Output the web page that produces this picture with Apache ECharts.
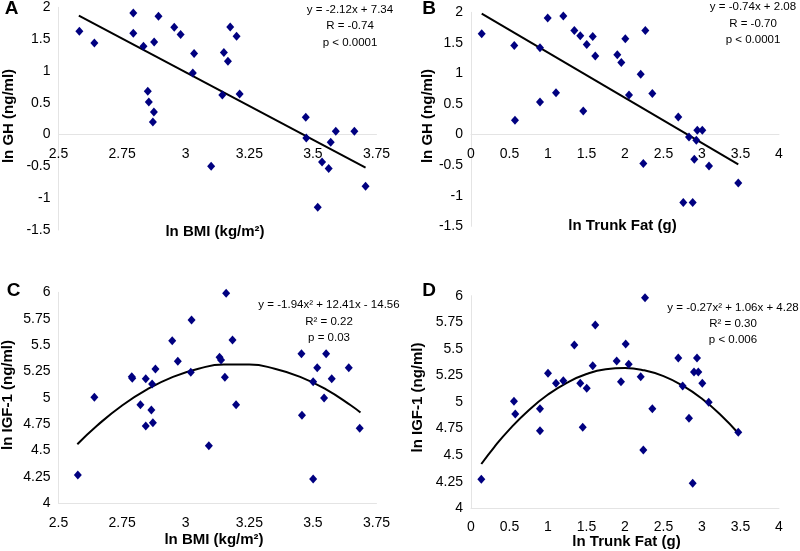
<!DOCTYPE html>
<html><head><meta charset="utf-8">
<script src="https://cdn.jsdelivr.net/npm/echarts@6/dist/echarts.min.js"></script>
<style>html,body{margin:0;padding:0;background:#fff}#c{width:800px;height:551px}</style>
</head><body><div id="c"></div>
<script>
// Panel A: ln BMI vs ln GH
const bmiA = [2.582,2.641,2.794,2.794,2.834,2.876,2.893,2.851,2.855,2.875,2.871,2.955,2.98,3.033,3.028,3.175,3.2,3.15,3.166,3.144,3.212,3.472,3.474,3.59,3.663,3.57,3.1,3.536,3.562,3.519,3.707];
const ghA = [1.624,1.44,1.912,1.593,1.388,1.456,1.86,0.681,0.513,0.355,0.198,1.687,1.572,1.274,0.969,1.692,1.546,1.289,1.152,0.623,0.638,0.272,-0.053,0.052,0.052,-0.121,-0.498,-0.431,-0.535,-1.143,-0.813];
// Panel B: ln Trunk Fat vs ln GH
const fatB = [0.139,0.562,0.896,0.996,1.199,1.342,1.419,1.503,1.581,1.614,0.571,0.896,1.104,1.458,2.004,2.264,1.9,1.952,2.204,2.052,2.355,2.692,2.939,3.004,2.831,2.926,2.238,2.9,3.091,2.757,2.879,3.471];
const ghB = [1.65,1.459,1.42,1.905,1.938,1.704,1.618,1.475,1.606,1.284,0.234,0.533,0.686,0.386,1.569,1.704,1.307,1.181,0.985,0.647,0.67,0.288,0.07,0.07,-0.039,-0.093,-0.474,-0.404,-0.513,-1.111,-1.111,-0.791];
// Panel C: ln BMI vs ln IGF-1
const bmiC = [2.641,2.788,2.79,2.843,2.881,2.868,2.822,2.865,2.947,2.969,3.023,3.02,3.159,3.184,3.133,3.139,3.154,3.198,3.455,3.552,3.517,3.641,3.574,3.501,3.544,3.457,2.843,2.871,2.576,3.091,3.684,3.501];
const igfC = [5.005,5.2,5.185,5.181,5.273,5.131,4.935,4.884,5.541,5.346,5.737,5.242,5.991,5.548,5.384,5.358,5.194,4.935,5.418,5.418,5.285,5.285,5.181,5.153,4.998,4.834,4.733,4.764,4.268,4.546,4.711,4.23];
// Panel D: ln Trunk Fat vs ln IGF-1
const fatD = [0.558,0.575,0.896,1.0,1.104,1.199,1.342,1.419,1.503,1.581,1.614,2.26,2.009,1.892,2.048,1.948,2.204,2.692,2.935,2.896,2.952,3.004,2.749,3.087,2.355,2.831,0.896,1.451,0.134,2.238,2.879,3.471];
const igfD = [5.007,4.887,4.937,5.27,5.176,5.2,5.536,5.176,5.129,5.341,5.724,5.981,5.546,5.386,5.355,5.191,5.238,5.414,5.414,5.282,5.282,5.176,5.151,4.997,4.937,4.847,4.73,4.762,4.273,4.548,4.235,4.715];
// Trend lines
const trendAX = [2.58,3.707], trendAY = [1.870,-0.519];
const trendBX = [0.139,3.471], trendBY = [1.977,-0.489];
const curveCX = [2.574,2.65,2.75,2.85,2.95,3.05,3.15,3.25,3.35,3.45,3.55,3.65,3.687];
const curveCY = [4.56,4.733,4.927,5.082,5.199,5.276,5.315,5.315,5.276,5.199,5.082,4.927,4.86];
const curveDX = [0.134,0.3,0.5,0.75,1.0,1.25,1.5,1.75,2.0,2.25,2.5,2.75,3.0,3.25,3.471];
const curveDY = [4.417,4.574,4.743,4.923,5.07,5.183,5.263,5.308,5.32,5.298,5.243,5.153,5.03,4.873,4.706];
// Annotations
const eqA = ['y = -2.12x + 7.34','R = -0.74','p < 0.0001'];
const eqB = ['y = -0.74x + 2.08','R = -0.70','p < 0.0001'];
const eqC = ['y = -1.94x² + 12.41x - 14.56','R² = 0.22','p = 0.03'];
const eqD = ['y = -0.27x² + 1.06x + 4.28','R² = 0.30','p < 0.006'];
const panelLetters = ['A','B','C','D'];
const xTitles = ['ln BMI (kg/m²)','ln Trunk Fat (g)','ln BMI (kg/m²)','ln Trunk Fat (g)'];
const yTitles = ['ln GH (ng/ml)','ln GH (ng/ml)','ln IGF-1 (ng/ml)','ln IGF-1 (ng/ml)'];

const zip = (a,b) => a.map((v,i)=>[v,b[i]]);
const FONT = 'Liberation Sans, Arial, sans-serif';
const axisLbl = {color:'#000', fontSize:14, fontFamily:FONT};
const lineCol = '#e4e4e4';
const grids = [
  {left:58.5, top:7.3, width:318, height:222.7},
  {left:471, top:12.3, width:308, height:214},
  {left:58.5, top:292.3, width:318, height:211},
  {left:471, top:295.7, width:308, height:212.6}
];
// x axis of the GH panels crosses at y = 0 (1.5 of 3.5 units above the bottom)
const crossA = -grids[0].height*1.5/3.5, crossB = -grids[1].height*1.5/3.5;

function xAx(i,min,max,interval,margin,offset){
  return {type:'value', gridIndex:i, min, max, interval, offset:offset||0,
    axisLine:{onZero:false, lineStyle:{color:lineCol}}, axisTick:{show:false},
    splitLine:{show:false}, axisLabel:Object.assign({margin}, axisLbl)};
}
function yAx(i,min,max,interval){
  return {type:'value', gridIndex:i, min, max, interval,
    axisLine:{show:true, onZero:false, lineStyle:{color:lineCol}}, axisTick:{show:false},
    splitLine:{show:false}, axisLabel:Object.assign({margin:8}, axisLbl)};
}
function scat(i,x,y){
  return {type:'scatter', xAxisIndex:i, yAxisIndex:i, data:zip(x,y), symbol:'diamond',
    symbolSize:[8,9], itemStyle:{color:'#000080', opacity:1}, z:3};
}
function trend(i,x,y,smooth){
  return {type:'line', xAxisIndex:i, yAxisIndex:i, data:zip(x,y), symbol:'none', smooth,
    lineStyle:{color:'#000', width:2}, z:2};
}
function txt(x,y,text,size,weight,rot){
  return {type:'text', x, y, rotation:rot||0, z:10,
    style:{text, fill:'#000', font:(weight||'normal')+' '+size+'px '+FONT, align:'center', verticalAlign:'middle'}};
}
function eqTexts(cx,ys,lines){ return lines.map((l,k)=>txt(cx,ys[k],l,11.5)); }

const graphics = [
  txt(11.5,9,panelLetters[0],19,'bold'),
  txt(429,9,panelLetters[1],19,'bold'),
  txt(13.5,290.5,panelLetters[2],19,'bold'),
  txt(429,290.5,panelLetters[3],19,'bold'),
  txt(215,231.5,xTitles[0],15,'bold'),
  txt(622.5,225.5,xTitles[1],15,'bold'),
  txt(214,540,xTitles[2],15,'bold'),
  txt(626.5,541.5,xTitles[3],15,'bold'),
  txt(9,116,yTitles[0],15,'bold',Math.PI/2),
  txt(427.5,116,yTitles[1],15,'bold',Math.PI/2),
  txt(8,395,yTitles[2],15,'bold',Math.PI/2),
  txt(418,397.5,yTitles[3],15,'bold',Math.PI/2),
].concat(eqTexts(350,[10,26,42.5],eqA))
 .concat(eqTexts(753,[7,23.5,40],eqB))
 .concat(eqTexts(329,[305,321.5,338],eqC))
 .concat(eqTexts(733,[308,324,340],eqD));

const option = {
  backgroundColor:'#fff',
  animation:false,
  grid:grids,
  xAxis:[xAx(0,2.5,3.75,0.25,13,crossA), xAx(1,0,4,0.5,13,crossB), xAx(2,2.5,3.75,0.25,13), xAx(3,0,4,0.5,12)],
  yAxis:[yAx(0,-1.5,2,0.5), yAx(1,-1.5,2,0.5), yAx(2,4,6,0.25), yAx(3,4,6,0.25)],
  series:[
    scat(0,bmiA,ghA), trend(0,trendAX,trendAY,false),
    scat(1,fatB,ghB), trend(1,trendBX,trendBY,false),
    scat(2,bmiC,igfC), trend(2,curveCX,curveCY,true),
    scat(3,fatD,igfD), trend(3,curveDX,curveDY,true)
  ],
  graphic:graphics
};
echarts.init(document.getElementById('c'),null,{renderer:'canvas'}).setOption(option);
</script></body></html>
